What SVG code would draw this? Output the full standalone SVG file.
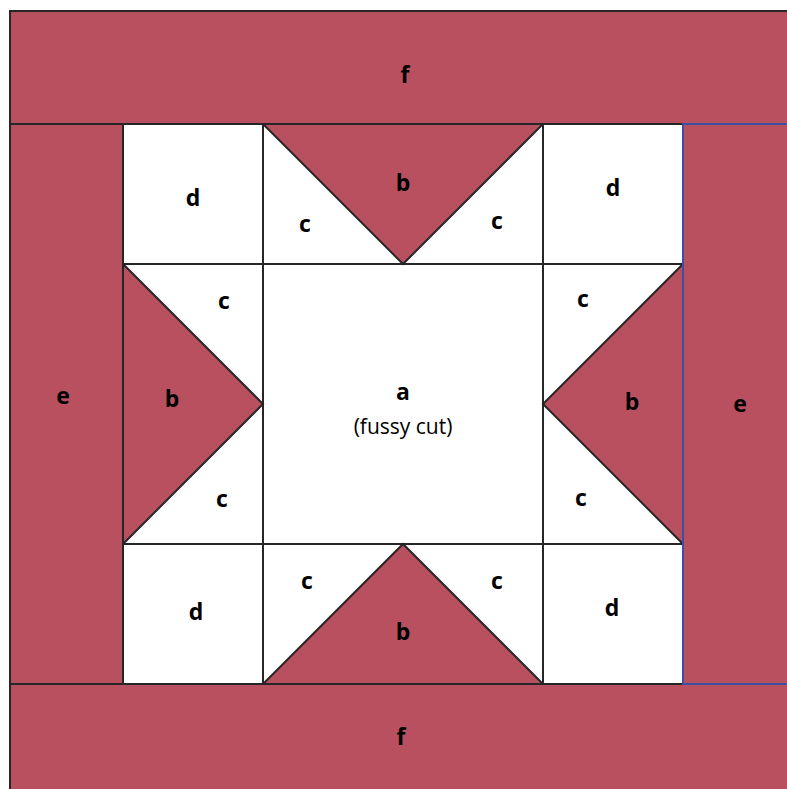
<svg xmlns="http://www.w3.org/2000/svg" width="787" height="789" viewBox="0 0 787 789">
<style>
.r{fill:#b9505f;stroke:#262626;stroke-width:2}
.w{fill:#ffffff;stroke:#262626;stroke-width:2}
.bl{fill:#b9505f;stroke:#3b4fa3;stroke-width:2}
.t{font-family:"Open Sans","Liberation Sans",sans-serif;font-weight:bold;font-size:23px;fill:#000;text-anchor:middle}
.s{font-family:"Open Sans","Liberation Sans",sans-serif;font-size:21px;fill:#000;text-anchor:middle}
</style>
<rect width="787" height="789" fill="#ffffff"/>
<g id="f-top"><rect class="r" x="10" y="11" width="790" height="113"/><text class="t" x="405" y="83">f</text></g>
<g id="f-bottom"><rect class="r" x="10" y="684" width="790" height="120"/><text class="t" x="401" y="745">f</text></g>
<g id="e-left"><rect class="r" x="10" y="124" width="113" height="560"/><text class="t" x="63" y="404">e</text></g>
<g id="a"><rect class="w" x="263" y="264" width="280" height="280"/><text class="t" x="403" y="400">a</text><text class="s" x="403" y="434">(fussy cut)</text></g>
<g id="d-tl"><rect class="w" x="123" y="124" width="140" height="140"/><text class="t" x="193" y="206">d</text></g>
<g id="d-tr"><rect class="w" x="543" y="124" width="140" height="140"/><text class="t" x="613" y="196">d</text></g>
<g id="d-bl"><rect class="w" x="123" y="544" width="140" height="140"/><text class="t" x="196" y="620">d</text></g>
<g id="d-br"><rect class="w" x="543" y="544" width="140" height="140"/><text class="t" x="612" y="616">d</text></g>
<g id="unit-top"><rect class="w" x="263" y="124" width="280" height="140"/><polygon class="r" points="263,124 543,124 403,264"/><text class="t" x="403" y="191">b</text><text class="t" x="305" y="232">c</text><text class="t" x="497" y="229">c</text></g>
<g id="unit-bottom"><rect class="w" x="263" y="544" width="280" height="140"/><polygon class="r" points="263,684 543,684 403,544"/><text class="t" x="403" y="640">b</text><text class="t" x="307" y="589">c</text><text class="t" x="497" y="589">c</text></g>
<g id="unit-left"><rect class="w" x="123" y="264" width="140" height="280"/><polygon class="r" points="123,264 123,544 263,404"/><text class="t" x="172" y="407">b</text><text class="t" x="224" y="309">c</text><text class="t" x="222" y="507">c</text></g>
<g id="unit-right"><rect class="w" x="543" y="264" width="140" height="280"/><polygon class="r" points="683,264 683,544 543,404"/><text class="t" x="632" y="410">b</text><text class="t" x="583" y="307">c</text><text class="t" x="581" y="506">c</text></g>
<g id="e-right"><rect class="bl" x="683" y="124" width="120" height="560"/><text class="t" x="740" y="412">e</text></g>
<g id="connectors"></g>
</svg>
